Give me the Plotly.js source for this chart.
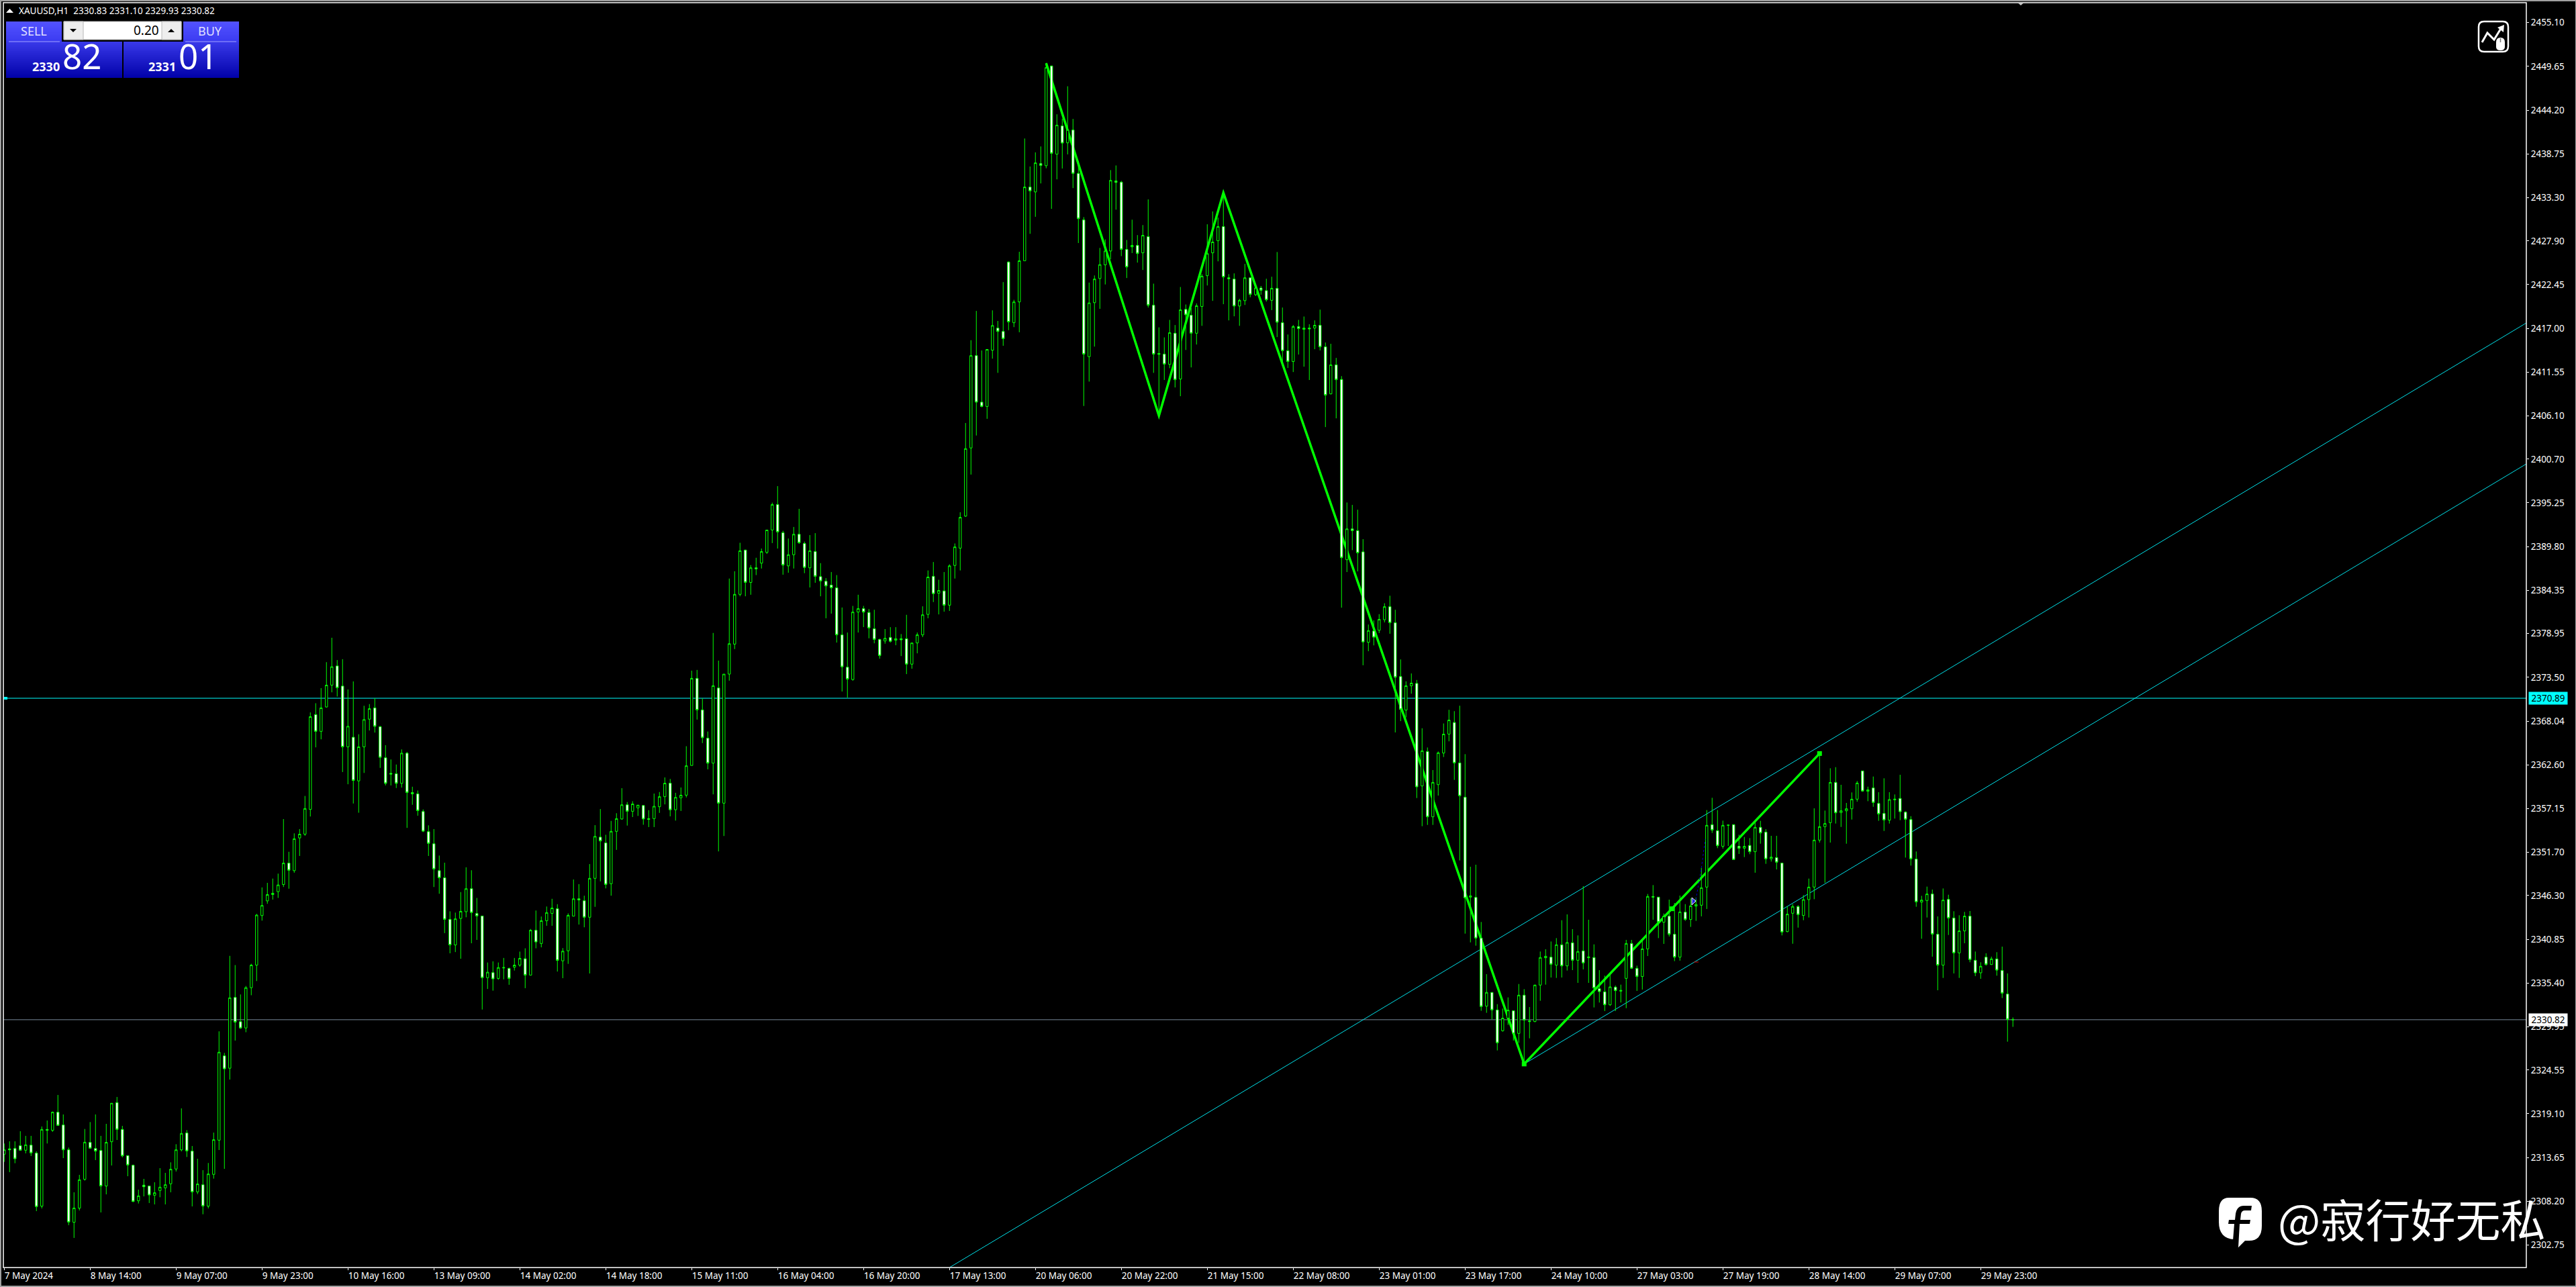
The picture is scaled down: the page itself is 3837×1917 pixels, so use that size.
<!DOCTYPE html>
<html>
<head>
<meta charset="utf-8">
<script src="https://cdn.plot.ly/plotly-3.0.1.min.js"></script>
<style>html,body{margin:0;padding:0;background:#000;overflow:hidden}#chart{width:3837px;height:1917px}</style>
</head>
<body>
<div id="chart"></div>
<script>
const opens = [
2314.05,2314.72,2314.77,2315.11,2314.55,2315.19,2314.19,2307.58,2317.14,2317.03,
2319.29,2317.70,2314.60,2305.57,2307.33,2310.92,2315.53,2314.77,2314.52,2310.09,
2315.61,2320.49,2317.14,2313.88,2312.68,2308.25,2310.20,2310.09,2308.94,2309.53,
2309.86,2310.37,2312.21,2314.60,2316.70,2314.44,2309.36,2310.25,2307.58,2311.54,
2315.80,2326.32,2324.77,2333.60,2330.57,2329.79,2334.81,2337.63,2343.80,2345.63,
2346.42,2346.78,2347.67,2350.34,2349.40,2353.48,2353.95,2357.03,2368.85,2366.76,
2369.80,2372.52,2374.92,2372.41,2364.83,2366.03,2360.59,2364.83,2368.28,2369.69,
2367.34,2363.47,2361.53,2361.48,2360.28,2364.04,2359.13,2358.97,2356.77,2354.26,
2352.75,2349.40,2348.51,2343.33,2340.14,2343.44,2344.28,2347.15,2344.06,2343.75,
2336.06,2336.69,2335.96,2337.27,2337.21,2337.37,2337.63,2338.42,2336.38,2341.97,
2340.32,2343.16,2344.07,2344.65,2338.16,2339.41,2343.73,2345.89,2345.65,2343.59,
2348.44,2353.58,2352.86,2347.77,2354.30,2355.84,2357.61,2356.80,2357.23,2357.52,
2355.88,2355.88,2357.37,2358.62,2360.30,2356.99,2358.48,2358.81,2362.51,2373.37,
2369.43,2365.92,2362.80,2372.17,2357.81,2373.90,2377.64,2383.84,2389.36,2385.33,
2387.15,2387.73,2389.07,2391.86,2395.03,2391.52,2387.39,2388.78,2391.33,2390.18,
2387.15,2389.17,2386.05,2385.47,2384.99,2384.65,2378.79,2374.76,2373.22,2381.63,
2382.06,2381.58,2379.56,2378.22,2378.03,2378.46,2378.12,2378.31,2378.31,2375.14,
2377.78,2378.79,2381.34,2386.09,2383.98,2384.27,2382.49,2387.44,2389.60,2393.59,
2402.09,2413.60,2407.80,2407.26,2414.27,2417.03,2416.61,2425.26,2417.70,2420.29,
2425.42,2434.61,2434.00,2437.53,2437.27,2449.70,2438.71,2442.23,2440.12,2441.72,
2436.31,2430.51,2413.47,2420.20,2423.21,2424.91,2426.64,2435.38,2435.22,2426.83,
2427.15,2427.34,2426.41,2428.43,2419.88,2413.86,2413.79,2412.51,2416.39,2410.68,
2419.36,2418.63,2416.39,2419.72,2423.56,2426.41,2427.92,2429.68,2423.30,2423.14,
2419.78,2420.45,2423.30,2421.19,2422.02,2421.70,2420.49,2421.99,2417.70,2414.21,
2412.86,2417.22,2416.87,2417.03,2417.03,2417.38,2414.69,2408.83,2412.45,2410.62,
2388.16,2392.00,2391.78,2389.14,2377.86,2379.27,2379.36,2380.68,2382.30,2380.30,
2373.59,2369.41,2372.44,2372.74,2359.96,2364.25,2356.11,2360.12,2364.06,2366.42,
2367.87,2362.83,2358.56,2346.10,2346.07,2341.00,2332.51,2334.22,2332.04,2329.45,
2331.01,2331.93,2329.11,2333.88,2330.67,2330.59,2335.14,2338.54,2338.62,2337.62,
2340.16,2337.53,2340.41,2338.23,2339.40,2338.54,2338.57,2334.69,2334.30,2332.68,
2334.88,2334.38,2335.97,2340.32,2337.23,2336.20,2339.65,2346.18,2346.10,2342.97,
2343.73,2341.47,2338.62,2344.23,2343.31,2344.98,2345.09,2347.35,2355.13,2354.38,
2352.43,2355.05,2355.13,2352.43,2352.20,2352.54,2351.76,2354.80,2354.21,2350.87,
2351.03,2350.34,2341.80,2344.09,2344.93,2343.81,2345.79,2347.35,2353.21,2354.88,
2355.38,2360.40,2356.64,2356.86,2357.11,2358.31,2361.83,2359.29,2359.71,2357.78,
2356.53,2355.69,2358.23,2358.40,2356.69,2355.77,2350.84,2345.48,2345.68,2346.49,
2341.47,2337.62,2345.82,2343.50,2339.15,2341.89,2343.73,2338.23,2336.67,2338.62,
2337.70,2338.40,2336.95,2334.02,2330.83];
const highs = [
2315.39,2315.66,2315.66,2316.92,2316.34,2316.34,2314.41,2317.51,2318.26,2319.38,
2321.44,2319.01,2314.88,2309.31,2311.48,2317.20,2318.06,2319.01,2316.34,2317.84,
2320.41,2321.19,2317.59,2313.88,2312.76,2309.64,2310.98,2310.14,2310.56,2312.32,
2311.73,2313.04,2315.30,2319.77,2317.06,2315.08,2313.49,2312.07,2312.96,2316.75,
2329.37,2326.68,2338.78,2337.63,2333.97,2335.02,2337.79,2344.01,2347.31,2347.88,
2348.41,2349.03,2355.83,2351.75,2354.05,2354.58,2358.71,2369.12,2370.27,2372.15,
2375.39,2378.43,2375.65,2375.76,2371.99,2372.99,2366.40,2369.95,2370.16,2370.89,
2367.44,2365.04,2363.26,2362.63,2364.51,2364.20,2359.86,2359.39,2357.03,2355.05,
2354.58,2351.28,2350.39,2344.33,2344.17,2346.73,2349.82,2349.45,2346.00,2343.75,
2337.95,2338.10,2337.95,2338.52,2337.32,2338.52,2339.31,2339.72,2342.13,2344.43,
2343.68,2344.93,2345.89,2345.22,2339.75,2344.07,2348.30,2347.72,2346.28,2350.22,
2355.07,2357.08,2353.87,2355.60,2356.56,2359.68,2357.95,2358.05,2357.57,2357.57,
2356.94,2359.01,2359.20,2361.02,2360.83,2359.10,2359.77,2364.91,2374.33,2374.42,
2370.87,2366.74,2379.03,2375.58,2373.90,2385.81,2386.72,2390.27,2389.41,2387.49,
2388.40,2389.55,2391.86,2395.27,2397.33,2391.76,2390.80,2392.24,2394.50,2390.42,
2391.23,2391.47,2387.73,2385.86,2386.62,2386.24,2382.20,2379.08,2382.40,2383.79,
2382.40,2382.01,2381.92,2378.31,2379.51,2379.75,2379.75,2378.89,2381.29,2377.78,
2379.08,2382.35,2386.82,2387.87,2385.66,2386.62,2387.58,2390.18,2394.07,2405.20,
2415.52,2419.17,2414.24,2414.37,2419.24,2417.92,2422.76,2425.35,2420.55,2426.54,
2440.66,2437.17,2438.93,2439.67,2450.08,2449.76,2443.68,2443.13,2447.17,2443.10,
2437.85,2430.86,2422.70,2423.59,2427.02,2428.08,2436.72,2437.30,2435.38,2428.01,
2430.54,2428.62,2429.87,2433.07,2422.57,2417.12,2415.87,2418.05,2417.41,2422.15,
2419.97,2419.52,2420.10,2423.75,2429.97,2431.57,2430.80,2433.68,2423.75,2423.85,
2420.68,2425.03,2423.30,2422.15,2422.28,2423.18,2423.43,2426.51,2419.59,2416.23,
2417.41,2418.05,2418.47,2417.51,2417.99,2419.33,2415.23,2415.07,2413.31,2411.04,
2395.29,2394.99,2394.39,2390.72,2380.08,2380.60,2381.37,2382.73,2383.67,2381.92,
2375.73,2373.00,2373.98,2373.17,2367.15,2364.75,2361.94,2364.25,2367.75,2369.45,
2369.28,2369.96,2363.92,2349.89,2350.14,2343.00,2336.50,2334.22,2332.76,2332.21,
2333.60,2331.98,2335.27,2334.63,2332.40,2335.19,2339.32,2339.60,2340.57,2340.99,
2343.22,2343.95,2342.11,2341.33,2347.46,2343.28,2340.21,2337.00,2336.31,2336.58,
2335.08,2335.19,2340.77,2340.77,2337.56,2340.63,2346.49,2347.60,2346.12,2344.06,
2345.79,2345.37,2346.29,2345.23,2345.93,2346.07,2349.75,2356.95,2358.48,2356.95,
2355.63,2355.13,2355.19,2353.88,2353.60,2353.46,2355.69,2355.61,2354.57,2353.74,
2353.74,2350.36,2344.95,2345.23,2345.09,2346.35,2348.41,2357.17,2364.06,2356.89,
2362.16,2362.30,2360.10,2357.84,2359.15,2360.57,2361.83,2359.87,2361.13,2359.18,
2360.91,2359.18,2358.90,2361.35,2356.81,2356.19,2351.79,2346.26,2347.41,2347.04,
2343.70,2347.18,2346.40,2344.34,2343.84,2344.26,2344.37,2339.32,2337.98,2339.10,
2338.68,2339.24,2339.93,2336.59,2331.10];
const lows = [
2313.10,2311.82,2312.93,2314.50,2314.16,2313.83,2306.96,2307.30,2315.39,2316.84,
2317.60,2313.57,2305.21,2303.62,2307.05,2310.76,2314.80,2313.32,2306.80,2309.05,
2312.65,2315.83,2313.66,2311.31,2308.08,2307.91,2308.80,2307.97,2307.80,2308.69,
2307.80,2309.31,2311.90,2314.41,2313.71,2307.55,2309.08,2306.57,2307.30,2311.01,
2314.58,2312.23,2323.36,2328.22,2329.68,2329.26,2333.87,2335.64,2343.17,2345.27,
2345.79,2346.00,2347.36,2347.15,2349.14,2351.23,2353.74,2356.15,2364.77,2365.77,
2369.74,2371.63,2371.10,2361.69,2360.17,2357.77,2356.62,2361.58,2366.87,2366.61,
2362.21,2360.02,2360.02,2359.70,2359.75,2354.73,2357.61,2356.25,2354.21,2351.23,
2347.36,2346.52,2341.61,2339.10,2339.25,2338.42,2343.59,2340.35,2340.77,2332.09,
2334.65,2334.44,2335.80,2335.85,2335.17,2336.95,2337.42,2334.75,2336.33,2339.72,
2339.84,2342.53,2342.53,2336.82,2336.00,2337.78,2343.70,2342.68,2342.34,2336.58,
2344.89,2348.06,2347.19,2346.28,2351.99,2355.74,2355.02,2356.08,2356.22,2355.12,
2354.83,2354.83,2356.60,2357.66,2356.17,2355.64,2356.84,2358.53,2362.50,2368.23,
2365.30,2362.03,2358.91,2351.80,2353.72,2373.08,2377.02,2383.60,2383.60,2383.79,
2386.24,2387.06,2388.88,2390.23,2389.55,2386.29,2386.53,2387.06,2390.13,2386.48,
2384.70,2385.28,2383.60,2380.86,2381.44,2377.83,2371.73,2370.97,2373.08,2379.08,
2379.76,2378.36,2377.74,2375.82,2377.69,2377.83,2377.50,2376.15,2373.90,2374.57,
2376.49,2378.51,2380.86,2382.88,2381.34,2381.68,2381.77,2385.81,2386.82,2393.50,
2398.77,2403.64,2407.16,2405.72,2413.22,2411.45,2414.82,2416.77,2417.15,2416.51,
2425.40,2428.78,2430.90,2435.06,2436.95,2431.89,2435.57,2436.92,2438.68,2434.48,
2427.63,2407.32,2410.36,2414.72,2419.43,2422.47,2425.61,2431.79,2426.00,2423.27,
2426.38,2425.19,2424.27,2419.59,2411.45,2406.14,2410.56,2412.03,2409.63,2408.54,
2414.30,2412.13,2414.98,2417.31,2422.34,2420.42,2425.35,2420.01,2417.99,2418.50,
2417.31,2419.91,2420.87,2421.03,2421.19,2420.33,2419.27,2415.91,2412.54,2412.06,
2411.55,2413.73,2412.22,2410.56,2414.40,2414.24,2404.69,2408.76,2405.78,2382.18,
2386.62,2389.35,2386.70,2375.00,2376.75,2377.48,2379.02,2380.34,2378.93,2366.63,
2368.04,2368.51,2371.46,2358.45,2354.94,2355.10,2355.10,2358.76,2363.56,2365.52,
2360.71,2350.67,2341.55,2340.46,2340.05,2331.93,2331.68,2330.87,2326.99,2329.33,
2330.17,2328.22,2327.94,2325.15,2328.50,2330.51,2333.18,2335.19,2336.08,2336.03,
2336.08,2336.95,2337.00,2335.41,2337.09,2335.41,2332.35,2332.96,2331.90,2332.54,
2331.90,2332.96,2332.26,2337.14,2334.41,2334.58,2338.76,2343.28,2340.99,2340.27,
2341.19,2338.12,2338.18,2343.14,2342.39,2343.14,2343.70,2344.62,2354.10,2352.20,
2352.15,2352.48,2350.73,2351.48,2351.09,2351.45,2349.14,2352.76,2350.25,2350.53,
2349.55,2341.33,2341.72,2340.29,2342.30,2343.22,2343.56,2345.84,2352.90,2347.88,
2352.90,2355.27,2354.85,2352.76,2355.77,2358.00,2359.23,2358.06,2357.36,2355.61,
2354.35,2355.27,2355.89,2355.69,2351.03,2350.03,2344.90,2340.91,2343.56,2338.68,
2334.49,2336.03,2341.38,2336.59,2336.03,2340.35,2337.98,2336.25,2335.92,2337.56,
2337.65,2336.31,2333.52,2328.08,2329.93];
const closes = [
2314.60,2314.60,2313.49,2314.55,2315.22,2314.22,2307.52,2317.14,2317.03,2319.29,
2317.65,2314.60,2305.60,2307.35,2310.87,2315.55,2314.80,2314.44,2310.09,2315.53,
2320.41,2317.14,2313.85,2312.71,2308.16,2308.86,2310.00,2308.97,2309.25,2309.95,
2310.25,2312.18,2314.60,2316.64,2314.47,2309.36,2310.34,2307.60,2311.59,2315.86,
2326.77,2324.70,2333.55,2330.52,2329.79,2334.81,2337.63,2343.86,2345.06,2346.42,
2346.58,2347.62,2350.34,2349.45,2353.37,2353.95,2357.14,2368.59,2366.76,2369.69,
2372.52,2374.82,2372.20,2364.83,2367.39,2360.64,2364.83,2368.23,2369.59,2367.39,
2363.52,2360.28,2361.43,2360.28,2364.04,2359.13,2358.97,2356.88,2354.32,2352.80,
2349.61,2348.51,2343.33,2340.14,2343.39,2344.33,2347.15,2344.17,2343.75,2336.06,
2336.74,2335.91,2337.32,2337.32,2335.96,2337.63,2338.47,2336.38,2341.97,2340.51,
2343.16,2344.17,2344.74,2338.21,2339.36,2343.83,2345.89,2345.75,2343.59,2348.44,
2353.67,2353.10,2347.67,2354.30,2355.88,2357.61,2356.80,2357.71,2357.57,2355.84,
2355.79,2357.42,2358.62,2360.30,2356.99,2358.53,2358.81,2362.47,2373.37,2369.43,
2365.97,2362.80,2372.45,2357.81,2373.90,2377.69,2383.84,2389.27,2385.33,2387.15,
2387.01,2389.17,2391.86,2395.03,2391.62,2387.49,2388.78,2391.33,2390.27,2387.20,
2389.27,2386.09,2385.52,2384.89,2384.65,2378.79,2374.81,2373.27,2381.63,2382.06,
2381.63,2379.66,2378.22,2376.20,2378.36,2377.98,2378.31,2378.17,2375.14,2377.78,
2378.79,2381.29,2386.00,2383.93,2384.32,2382.49,2387.39,2389.75,2393.44,2402.00,
2413.60,2407.80,2407.26,2414.37,2417.35,2416.61,2415.71,2417.80,2420.29,2425.42,
2434.61,2434.13,2437.62,2437.30,2449.50,2438.81,2442.33,2440.09,2441.75,2436.31,
2430.67,2413.79,2420.17,2423.14,2424.94,2426.64,2435.44,2435.19,2426.83,2424.65,
2427.34,2426.32,2428.59,2419.88,2413.79,2413.76,2412.54,2416.45,2410.59,2419.30,
2418.69,2416.39,2419.81,2423.50,2426.31,2427.76,2429.68,2423.40,2423.18,2419.78,
2420.49,2423.30,2421.22,2422.02,2421.73,2420.55,2421.99,2417.76,2414.21,2412.86,
2417.22,2416.96,2417.03,2416.93,2417.38,2414.69,2408.67,2412.45,2410.59,2388.41,
2392.00,2391.78,2389.01,2377.91,2379.32,2378.50,2380.72,2382.30,2380.30,2373.51,
2369.50,2372.44,2372.78,2359.85,2364.34,2356.11,2360.40,2364.09,2366.42,2368.17,
2362.83,2358.73,2346.01,2346.26,2341.00,2332.46,2334.22,2332.04,2327.94,2331.01,
2332.01,2329.11,2333.88,2330.78,2330.59,2335.14,2338.57,2338.73,2337.73,2340.16,
2337.53,2340.44,2338.23,2339.32,2337.90,2338.65,2334.77,2334.33,2332.68,2334.91,
2334.44,2334.47,2340.32,2337.23,2336.20,2339.65,2346.18,2346.10,2343.00,2343.73,
2341.47,2338.62,2344.26,2343.31,2345.01,2345.18,2347.27,2355.05,2354.46,2352.51,
2355.05,2355.08,2350.78,2352.18,2352.43,2351.76,2354.80,2354.10,2350.87,2351.09,
2350.45,2341.75,2343.98,2344.93,2343.92,2345.79,2347.35,2353.21,2354.88,2355.27,
2360.40,2356.61,2356.86,2357.11,2358.31,2360.32,2359.32,2359.48,2357.89,2356.47,
2355.72,2358.26,2358.31,2356.75,2355.80,2350.87,2345.51,2345.73,2346.49,2341.49,
2337.62,2345.73,2343.50,2339.15,2341.89,2343.73,2338.31,2336.67,2337.48,2337.70,
2338.40,2337.00,2334.13,2330.87,2330.82];

const timeTickLabels = ["7 May 2024","8 May 14:00","9 May 07:00","9 May 23:00","10 May 16:00","13 May 09:00","14 May 02:00","14 May 18:00","15 May 11:00","16 May 04:00","16 May 20:00","17 May 13:00","20 May 06:00","20 May 22:00","21 May 15:00","22 May 08:00","23 May 01:00","23 May 17:00","24 May 10:00","27 May 03:00","27 May 19:00","28 May 14:00","29 May 07:00","29 May 23:00"];
const priceTicks = [2455.10,2449.65,2444.20,2438.75,2433.30,2427.90,2422.45,2417.00,2411.55,2406.10,2400.70,2395.25,2389.80,2384.35,2378.95,2373.50,2368.04,2362.60,2357.15,2351.70,2346.30,2340.85,2335.40,2329.95,2324.55,2319.10,2313.65,2308.20,2302.75];
const zigzagBars = [194,215,227,283,338];
const zigzagPrices = [2450.05,2406.10,2433.90,2325.30,2364.00];
const channelMidBar = [310.5];
const channelMidPrice = [2344.65];
const upperChannelBars = [176,469.6];
const upperChannelPrices = [2299.93,2417.67];
const lowerChannelBars = [283,469.6];
const lowerChannelPrices = [2325.30,2400.10];
const horizontalLevel = 2370.89;
const lastPrice = 2330.82;

const W=3837,H=1917,L=5,R=3763,T=4,B=1888;
const px=x=>(x-L)/(R-L), py=y=>(B-y)/(B-T);
const xs=opens.map((_,i)=>i);
const tickBars=timeTickLabels.map((_,i)=>i*16);
const shapes=[], ann=[];

// price lines under the candles
const dataLine=(x,y,color,width)=>shapes.push({type:'line',layer:'below',xref:'x',yref:'y',x0:x[0],y0:y[0],x1:x[1],y1:y[1],line:{color,width}});
shapes.push({type:'line',layer:'below',xref:'paper',yref:'y',x0:0,x1:1,y0:horizontalLevel,y1:horizontalLevel,line:{color:'#00FFFF',width:1}});
shapes.push({type:'line',layer:'below',xref:'paper',yref:'y',x0:0,x1:1,y0:lastPrice,y1:lastPrice,line:{color:'#778899',width:1}});
dataLine(upperChannelBars,upperChannelPrices,'#00E0E8',1);
dataLine(lowerChannelBars,lowerChannelPrices,'#00E0E8',1);
shapes.push({type:'path',layer:'below',xref:'x',yref:'y',line:{color:'#00FF00',width:3.5},
  path:zigzagBars.map((b,i)=>(i?'L':'M')+b+','+zigzagPrices[i]).join(' ')});

// page decoration, in pixels
const abs=(o)=>Object.assign({xref:'paper',yref:'paper',layer:'above'},o);
const rect=(x0,y0,x1,y1,fill,line)=>shapes.push(abs({type:'rect',x0:px(x0),x1:px(x1),y0:py(y0),y1:py(y1),fillcolor:fill,line:line||{width:0}}));
const pathPx=(segs,fill,line)=>{
  const d=segs.map(s=>typeof s==='string'?s:(px(s[0])+','+py(s[1]))).join(' ');
  shapes.push(abs({type:'path',path:d,fillcolor:fill||'rgba(0,0,0,0)',line:line||{width:0}}));
};
const mix=(a,b,t)=>'rgb('+a.map((v,i)=>Math.round(v+(b[i]-v)*t)).join(',')+')';
const grad=(x0,y0,x1,y1,c0,c1)=>{const n=Math.round(y1-y0);for(let k=0;k<n;k+=2)rect(x0,y0+k,x1,Math.min(y1,y0+k+2),mix(c0,c1,k/n));};
rect(0,0,W,2,'#A0A0A0'); rect(0,0,2,H,'#A0A0A0'); rect(0,H-2,W,H,'#A0A0A0'); rect(W-1,0,W,H,'#A0A0A0');
rect(L,T,R,B,'rgba(0,0,0,0)',{color:'#FFFFFF',width:1.5});
pathPx(['M',[3004,3],'L',[3016,3],'L',[3010,8],'Z'],'#C8C8C8');
rect(6,1038,11,1042,'#00FFFF');

// chart cursor remnants
pathPx(['M',[2526,1340],'L',[2534,1295],'L',[2540,1250]],null,{color:'#0000C0',width:1,dash:'dot'});
pathPx(['M',[2520,1337],'L',[2526,1342],'L',[2520,1348],'Z'],'#2020E0',{color:'#FFFFFF',width:1});
pathPx(['M',[2523,1433],'L',[2530,1433]],null,{color:'#D00000',width:1});

// trade panel
grad(9,32,92,62,[82,82,255],[58,58,240]);
grad(273,32,356,62,[82,82,255],[58,58,240]);
grad(9,62,182,116,[56,56,232],[0,0,168]);
grad(184,62,356,116,[56,56,232],[0,0,168]);
rect(13,61.5,89,62.5,'#A0A0FF'); rect(276,61.5,352,62.5,'#A0A0FF');
rect(92,30,273,62,'#000000');
rect(95,32,270,59,'#FFFFFF',{color:'#B8B8B8',width:1});
rect(95,32,124,59,'#EEEEEE',{color:'#B8B8B8',width:1});
rect(241,32,270,59,'#EEEEEE',{color:'#B8B8B8',width:1});
pathPx(['M',[104,43],'L',[114,43],'L',[109,48],'Z'],'#000000');
pathPx(['M',[250,48],'L',[260,48],'L',[255,43],'Z'],'#000000');
pathPx(['M',[9,19],'L',[20,19],'L',[14.5,13],'Z'],'#FFFFFF');

// chart-type icon
pathPx(['M',[3700,32],'L',[3728,32],'Q',[3736,32],[3736,40],'L',[3736,69],'Q',[3736,77],[3728,77],'L',[3700,77],'Q',[3692,77],[3692,69],'L',[3692,40],'Q',[3692,32],[3700,32],'Z'],null,{color:'#FFFFFF',width:2.5});
pathPx(['M',[3697,63],'L',[3705,49],'L',[3715,59],'L',[3726,41]],null,{color:'#FFFFFF',width:3});
pathPx(['M',[3720,41],'L',[3730,37],'L',[3729,48],'Z'],'#FFFFFF');
pathPx(['M',[3724.5,56],'Q',[3731,56],[3731,63],'L',[3731,70],'Q',[3731,75],[3724.5,75],'Q',[3718,75],[3718,70],'L',[3718,63],'Q',[3718,56],[3724.5,56],'Z'],'#FFFFFF');
pathPx(['M',[3724.5,57],'L',[3724.5,63]],null,{color:'#777777',width:1.5});

// watermark logo
pathPx(['M',[3320,1784],'L',[3352,1784],'Q',[3369,1784],[3369,1804],'L',[3369,1826],'Q',[3369,1848],[3350,1848],'L',[3344,1848],'L',[3334,1858],'L',[3328,1846],'Q',[3305,1845],[3305,1820],'L',[3305,1804],'Q',[3305,1784],[3320,1784],'Z'],'#FFFFFF');
pathPx(['M',[3354,1796],'L',[3342,1796],'Q',[3332,1796],[3330,1808],'L',[3329,1817],'L',[3320,1817],'L',[3319,1823],'L',[3328,1823],'L',[3326,1848],'L',[3334,1858],'L',[3336,1823],'L',[3351,1823],'L',[3352,1817],'L',[3337,1817],'L',[3338,1808],'Q',[3339,1803],[3344,1803],'L',[3353,1803],'Z'],'#000000');

// text
const txt=(x,y,text,size,color,anchor,family,extra)=>ann.push(Object.assign({xref:'paper',yref:'paper',x:px(x),y:py(y),text,showarrow:false,xanchor:anchor||'left',yanchor:'middle',borderpad:0,align:'left',font:{size,color,family:family||'Noto Sans'}},extra||{}));
txt(27,16,'XAUUSD,H1\u00A0\u00A02330.83 2331.10 2329.93 2330.82',13.5,'#FFFFFF');
txt(50,46,'SELL',18,'#E0E0FF','center');
txt(313,46,'BUY',18,'#E0E0FF','center');
txt(238,45,'0.20',19,'#000000','right');
txt(68,99,'<b>2330</b>',18,'#FFFFFF','center');
txt(122,83,'82',51,'#FFFFFF','center');
txt(241,99,'<b>2331</b>',18,'#FFFFFF','center');
txt(295,83,'01',51,'#FFFFFF','center');
txt(3392,1813,'@寂行好无私',67,'#FFFFFF','left','Noto Sans CJK SC');
ann.push({xref:'paper',yref:'y',x:px(3766),y:horizontalLevel,text:'\u00A0'+horizontalLevel.toFixed(2)+'\u00A0',showarrow:false,xanchor:'left',yanchor:'middle',bgcolor:'#00FFFF',borderpad:0,font:{size:13.5,color:'#000000',family:'Noto Sans'}});
ann.push({xref:'paper',yref:'y',x:px(3766),y:lastPrice,text:'\u00A0'+lastPrice.toFixed(2)+'\u00A0',showarrow:false,xanchor:'left',yanchor:'middle',bgcolor:'#FFFFFF',borderpad:0,font:{size:13.5,color:'#000000',family:'Noto Sans'}});

const traces=[
 {type:'candlestick',x:xs,open:opens,high:highs,low:lows,close:closes,whiskerwidth:0,
  increasing:{line:{color:'#00FF00',width:1},fillcolor:'#000000'},
  decreasing:{line:{color:'#00FF00',width:1},fillcolor:'#FFFFFF'},hoverinfo:'skip',showlegend:false},
 {type:'scatter',mode:'markers',x:[zigzagBars[3],channelMidBar[0],zigzagBars[4]],y:[zigzagPrices[3],channelMidPrice[0],zigzagPrices[4]],
  marker:{symbol:'square',size:7,color:'#00FF00',line:{width:0}},hoverinfo:'skip',showlegend:false}
];
const tickFont={size:13.5,color:'#FFFFFF',family:'Noto Sans'};
const layout={
 width:W,height:H,autosize:false,paper_bgcolor:'#000000',plot_bgcolor:'#000000',showlegend:false,
 margin:{l:L,r:W-R,t:T,b:H-B,pad:0},boxgap:0.4,
 xaxis:{type:'linear',range:[-0.156,469.594],rangeslider:{visible:false},tickmode:'array',tickvals:tickBars,ticktext:timeTickLabels,
   ticks:'outside',ticklen:3,tickwidth:1,tickcolor:'#FFFFFF',tickfont:tickFont,ticklabelposition:'outside right',showgrid:false,zeroline:false,showline:false,tickangle:0},
 yaxis:{type:'linear',side:'right',range:[2299.93,2457.59],tickmode:'array',tickvals:priceTicks,ticktext:priceTicks.map(v=>v.toFixed(2)),
   ticks:'outside',ticklen:3,tickwidth:1,tickcolor:'#FFFFFF',tickfont:tickFont,showgrid:false,zeroline:false,showline:false},
 shapes,annotations:ann,hovermode:false
};
Plotly.newPlot('chart',traces,layout,{staticPlot:true,displayModeBar:false});
</script>
</body>
</html>
